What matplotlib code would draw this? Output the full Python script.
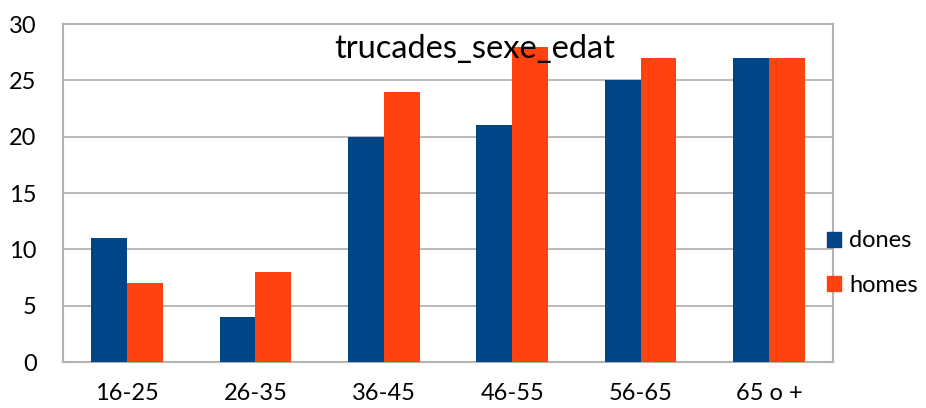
import numpy as np
import matplotlib
matplotlib.use("Agg")
import matplotlib.pyplot as plt
from matplotlib.patches import Patch

edats = ['16-25', '26-35', '36-45', '46-55', '56-65', '65 o +']
dones = [11, 4, 20, 21, 25, 27]
homes = [7, 8, 24, 28, 27, 27]

plt.rcParams['font.family'] = ['Lato', 'DejaVu Sans']

fig = plt.figure(figsize=(9.26, 4.08), dpi=100)
ax = fig.add_axes([0.068, 0.1127, 0.8316, 0.8284])

x = np.arange(len(edats))
w = 0.28
ax.bar(x - w / 2, dones, w, color='#004586', zorder=3)
ax.bar(x + w / 2, homes, w, color='#ff420e', zorder=3)

ax.set_xlim(-0.5, len(edats) - 0.5)
ax.set_ylim(0, 30)
ax.set_yticks(range(0, 31, 5))
ax.set_xticks(x)
ax.set_xticklabels(edats)
ax.tick_params(axis='both', length=0, labelsize=17)
ax.tick_params(axis='x', pad=15)
ax.tick_params(axis='y', pad=19)
ax.grid(axis='y', color='#b3b3b3', linewidth=1.3, zorder=0)
for s in ax.spines.values():
    s.set_color('#b3b3b3')
    s.set_linewidth(1.5)

ax.text(0.535, 0.925, 'trucades_sexe_edat', transform=ax.transAxes,
        ha='center', va='center', fontsize=23.5, zorder=5)

handles = [Patch(color='#004586', label='dones'),
           Patch(color='#ff420e', label='homes')]
fig.legend(handles=handles, loc='center left', bbox_to_anchor=(0.893, 0.355),
           frameon=False, fontsize=17, handlelength=0.6, handleheight=0.6,
           handletextpad=0.35, labelspacing=1.0, borderpad=0, borderaxespad=0)

fig.savefig('out.png', dpi=100)
